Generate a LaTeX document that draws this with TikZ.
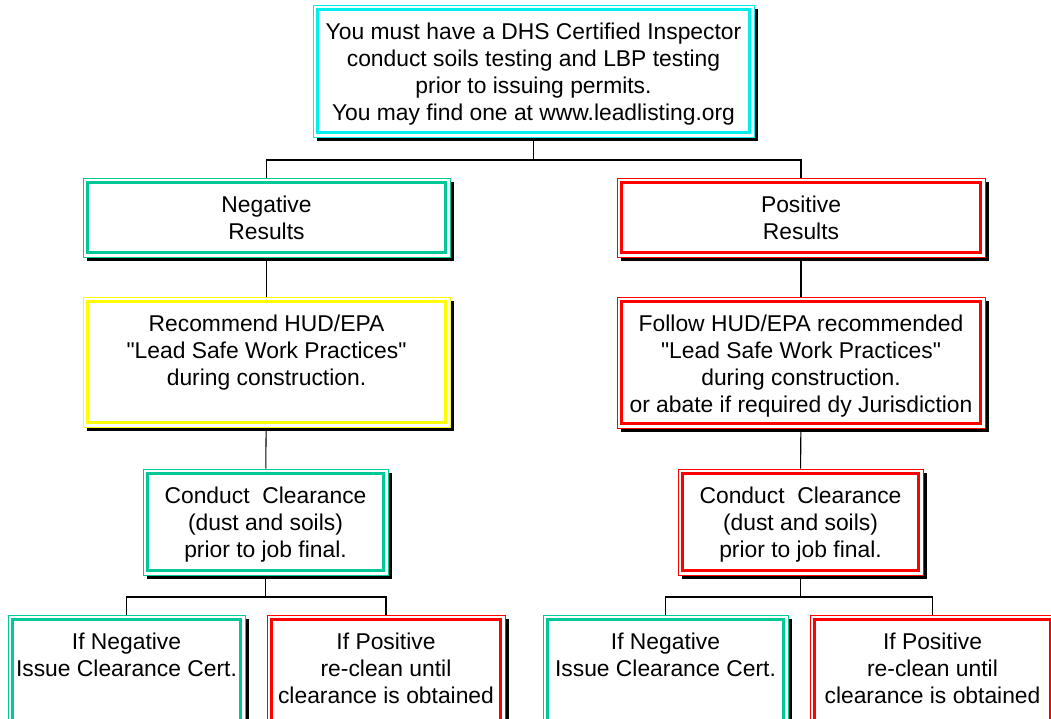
\documentclass[tikz,border=0pt]{standalone}
\usepackage{fontspec}
\setmainfont{Liberation Sans}[Ligatures=TeXOff]
\usetikzlibrary{shadows,backgrounds}
\definecolor{leadgreen}{RGB}{0,200,150}
\definecolor{leadcyan}{RGB}{0,240,240}
\definecolor{leadred}{RGB}{255,0,0}
\definecolor{leadyellow}{RGB}{255,255,0}
\newcommand{\cell}[3]{\parbox[c][#2][t]{#1}{\centering\rule{0pt}{19.4pt}#3\par}}
\begin{document}
\begin{tikzpicture}[x=0.02cm, y=-0.02cm,
    leadbox/.style={draw=#1, line width=0.5pt, fill=white, inner sep=0pt,
      font=\fontsize{13}{15.4}\selectfont,
      drop shadow={shadow xshift=0.08cm, shadow yshift=-0.08cm, fill=black, opacity=1},
      path picture={\draw[#1, line width=2pt]
        ([shift={(0.09cm,-0.09cm)}]path picture bounding box.north west) rectangle
        ([shift={(-0.09cm,0.09cm)}]path picture bounding box.south east);}},
    link/.style={draw=black, line width=0.6pt}]
  \useasboundingbox (0,0) rectangle (1051,719);
  \clip (0,0) rectangle (1051,719);
  % inspector
  \node[leadbox=leadcyan] (insp) at (533.5,71) {\cell{8.82cm}{2.64cm}{You must have a DHS Certified Inspector\\
    conduct soils testing and LBP testing\\ prior to issuing permits.\\ You may find one at www.leadlisting.org}};
  % results
  \node[leadbox=leadgreen] (neg) at (266.5,217.5) {\cell{7.34cm}{1.58cm}{Negative\\ Results}};
  \node[leadbox=leadred] (pos) at (801,217.5) {\cell{7.36cm}{1.58cm}{Positive\\ Results}};
  % work practices
  \node[leadbox=leadyellow] (recom) at (266.5,362) {\cell{7.34cm}{2.6cm}{Recommend HUD/EPA\\
    "Lead Safe Work Practices"\\ during construction.}};
  \node[leadbox=leadred] (follow) at (801,362.5) {\cell{7.36cm}{2.62cm}{Follow HUD/EPA recommended\\
    "Lead Safe Work Practices"\\ during construction.\\ or abate if required dy Jurisdiction}};
  % clearance
  \node[leadbox=leadgreen] (clearL) at (265.5,522) {\cell{4.9cm}{2.12cm}{Conduct\ \ Clearance\\
    (dust and soils)\\ prior to job final.}};
  \node[leadbox=leadred] (clearR) at (800.5,522) {\cell{4.9cm}{2.12cm}{Conduct\ \ Clearance\\
    (dust and soils)\\ prior to job final.}};
  % outcomes
  \node[leadbox=leadgreen] (negL) at (126.5,675) {\cell{4.74cm}{2.4cm}{If Negative\\ Issue Clearance Cert.}};
  \node[leadbox=leadred] (posL) at (386,675) {\cell{4.76cm}{2.4cm}{If Positive\\ re-clean until\\ clearance is obtained}};
  \node[leadbox=leadgreen] (negR) at (665.5,675) {\cell{4.9cm}{2.4cm}{If Negative\\ Issue Clearance Cert.}};
  \node[leadbox=leadred] (posR) at (932.5,675) {\cell{4.9cm}{2.4cm}{If Positive\\ re-clean until\\ clearance is obtained}};
  % connectors
  \coordinate (splitT) at (533.5,160);
  \coordinate (splitL) at (265.5,597);
  \coordinate (splitR) at (800.5,597);
  \begin{scope}[on background layer]
    \draw[link] (insp) -- (splitT);
    \draw[link] (neg.north) |- (splitT) -| (pos.north);
    \draw[link] (neg) -- (recom);
    \draw[link] (pos) -- (follow);
    \draw[link] (recom) -- (clearL);
    \draw[link] (follow) -- (clearR);
    \draw[link] (clearL) -- (splitL);
    \draw[link] (negL.north) |- (splitL) -| (posL.north);
    \draw[link] (clearR) -- (splitR);
    \draw[link] (negR.north) |- (splitR) -| (posR.north);
  \end{scope}
\end{tikzpicture}
\end{document}
